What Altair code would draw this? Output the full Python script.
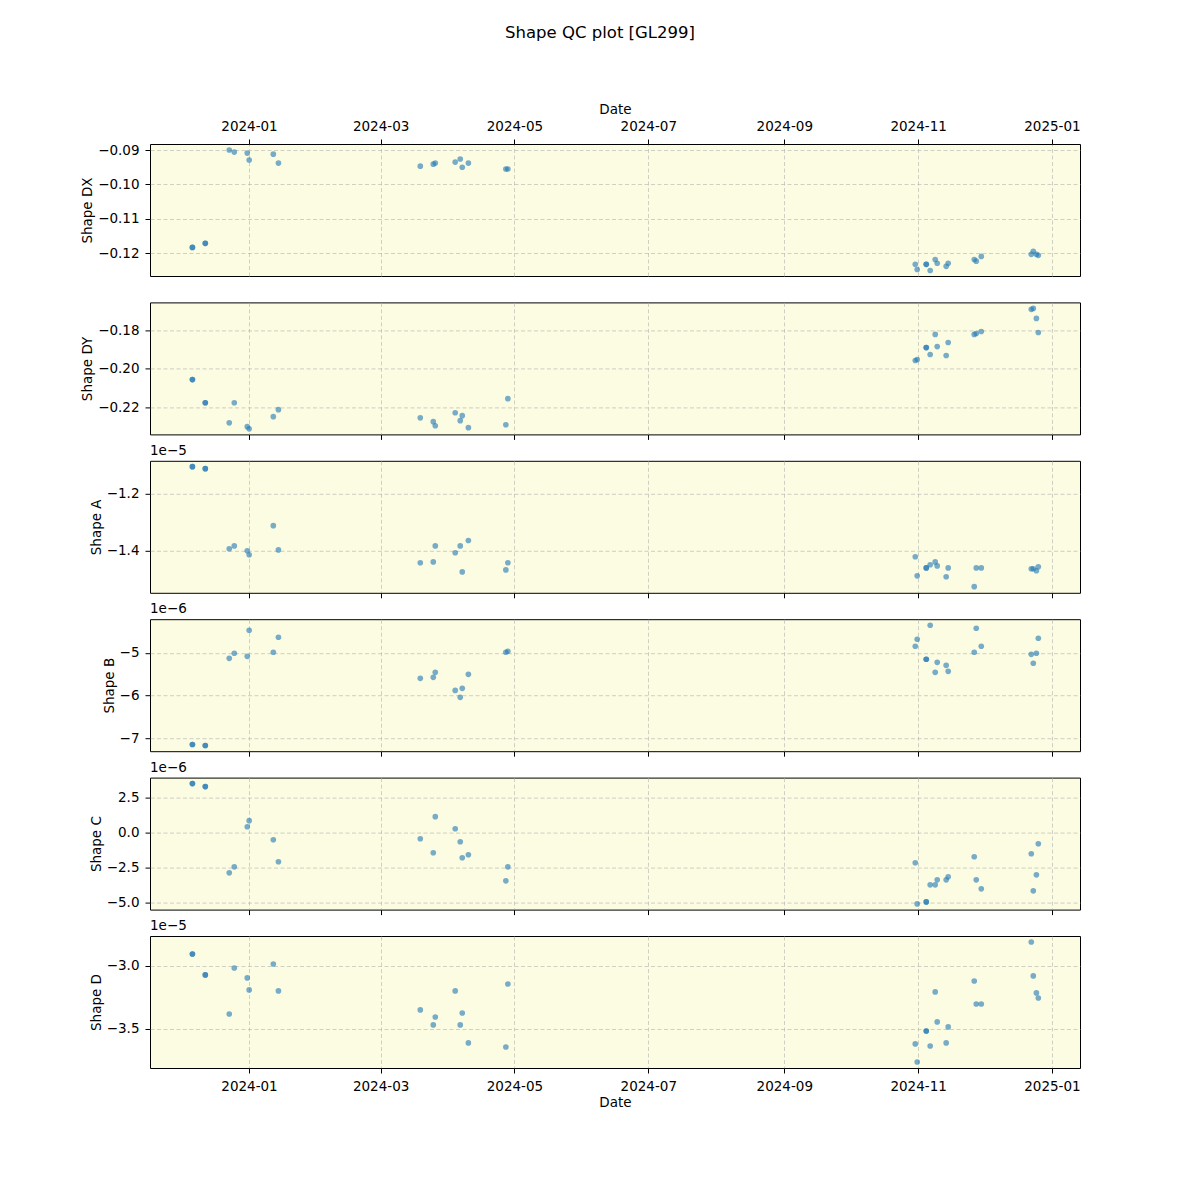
import altair as alt
import pandas as pd

# ---- data ----
dates = [
    "2023-12-06T05:00:00Z", "2023-12-12T02:00:00Z", "2023-12-23T00:00:00Z", "2023-12-25T07:00:00Z",
    "2023-12-31T05:00:00Z", "2024-01-01T02:00:00Z", "2024-01-12T02:00:00Z", "2024-01-14T10:00:00Z",
    "2024-03-19T02:00:00Z", "2024-03-25T00:00:00Z", "2024-03-25T22:00:00Z", "2024-04-04T00:00:00Z",
    "2024-04-06T07:00:00Z", "2024-04-07T05:00:00Z", "2024-04-10T00:00:00Z", "2024-04-27T02:00:00Z",
    "2024-04-28T00:00:00Z", "2024-10-30T17:00:00Z", "2024-10-31T14:00:00Z", "2024-11-04T17:00:00Z",
    "2024-11-06T12:00:00Z", "2024-11-08T19:00:00Z", "2024-11-09T17:00:00Z", "2024-11-13T19:00:00Z",
    "2024-11-14T17:00:00Z", "2024-11-26T14:00:00Z", "2024-11-27T12:00:00Z", "2024-11-29T19:00:00Z",
    "2024-12-22T14:00:00Z", "2024-12-23T12:00:00Z", "2024-12-24T22:00:00Z", "2024-12-25T19:00:00Z",
]
# number of overlapping observations at each date (darker dots)
n_obs = [2, 2, 1, 1, 1, 1, 1, 1, 1, 1, 1, 1, 1, 1, 1, 1,
         1, 1, 1, 2, 1, 1, 1, 1, 1, 1, 1, 1, 1, 1, 1, 1]

shape_dx = [-0.1183, -0.1171, -0.0900, -0.0906, -0.0909, -0.0929, -0.0912, -0.0938,
            -0.0947, -0.0941, -0.0938, -0.0935, -0.0926, -0.0950, -0.0938, -0.0955,
            -0.0955, -0.1232, -0.1247, -0.1232, -0.1250, -0.1218, -0.1229, -0.1238,
            -0.1229, -0.1218, -0.1223, -0.1209, -0.1203, -0.1194, -0.1203, -0.1206]
shape_dy = [-0.2056, -0.2176, -0.2280, -0.2176, -0.2300, -0.2311, -0.2248, -0.2212,
            -0.2254, -0.2274, -0.2295, -0.2228, -0.2269, -0.2243, -0.2305, -0.2290,
            -0.2155, -0.1957, -0.1952, -0.1890, -0.1926, -0.1822, -0.1885, -0.1931,
            -0.1864, -0.1822, -0.1817, -0.1807, -0.1692, -0.1687, -0.1739, -0.1812]
shape_a_e5 = [-1.106, -1.113, -1.394, -1.384, -1.401, -1.415, -1.313, -1.398,
              -1.443, -1.440, -1.384, -1.408, -1.384, -1.475, -1.365, -1.468,
              -1.443, -1.422, -1.489, -1.461, -1.450, -1.440, -1.454, -1.492,
              -1.461, -1.527, -1.461, -1.461, -1.464, -1.464, -1.471, -1.457]
shape_b_e6 = [-7.148, -7.172, -5.125, -5.007, -5.078, -4.466, -4.984, -4.631,
              -5.595, -5.572, -5.454, -5.878, -6.042, -5.831, -5.501, -4.984,
              -4.960, -4.842, -4.678, -5.148, -4.348, -5.454, -5.219, -5.290,
              -5.431, -4.984, -4.419, -4.842, -5.031, -5.242, -5.007, -4.654]
shape_c_e6 = [3.500, 3.286, -2.857, -2.429, 0.429, 0.857, -0.500, -2.071,
              -0.429, -1.429, 1.143, 0.286, -0.643, -1.786, -1.571, -3.429,
              -2.429, -2.143, -5.071, -4.929, -3.714, -3.714, -3.357, -3.357,
              -3.143, -1.714, -3.357, -4.000, -1.500, -4.143, -3.000, -0.786]
shape_d_e5 = [-2.905, -3.071, -3.381, -3.016, -3.095, -3.190, -2.984, -3.198,
              -3.349, -3.468, -3.405, -3.198, -3.468, -3.373, -3.611, -3.643,
              -3.143, -3.619, -3.762, -3.516, -3.635, -3.206, -3.444, -3.611,
              -3.484, -3.119, -3.302, -3.302, -2.810, -3.079, -3.214, -3.254]

x_tick_months = [(2024, 1), (2024, 3), (2024, 5), (2024, 7), (2024, 9), (2024, 11), (2025, 1)]

panels = [
    # field, title, values, multiplier, domain (scaled), ticks (scaled), label format, offset text
    ("dx", "Shape DX", shape_dx, 1, [-0.1266, -0.08825], [-0.12, -0.11, -0.10, -0.09], ".2f", ""),
    ("dy", "Shape DY", shape_dy, 1, [-0.2340, -0.1656], [-0.22, -0.20, -0.18], ".2f", ""),
    ("a", "Shape A", shape_a_e5, 1e-5, [-1.5484, -1.0853], [-1.4, -1.2], ".1f", "1e\u22125"),
    ("b", "Shape B", shape_b_e6, 1e-6, [-7.306, -4.207], [-7, -6, -5], ".0f", "1e\u22126"),
    ("c", "Shape C", shape_c_e6, 1e-6, [-5.479, 3.929], [-5.0, -2.5, 0.0, 2.5], ".1f", "1e\u22126"),
    ("d", "Shape D", shape_d_e5, 1e-5, [-3.810, -2.762], [-3.5, -3.0], ".1f", "1e\u22125"),
]

# ---- build table ----
rows = []
for i, d in enumerate(dates):
    for _ in range(n_obs[i]):
        row = {"date": d}
        for field, _t, vals, mult, *_ in panels:
            row[field] = vals[i] * mult
        rows.append(row)
df = pd.DataFrame(rows)

FONT = "DejaVu Sans"
x_domain = [alt.DateTime(year=2023, month=11, date=16, hours=21, utc=True),
            alt.DateTime(year=2025, month=1, date=13, hours=19, utc=True)]
x_ticks = [alt.DateTime(year=y, month=m, date=1, utc=True) for y, m in x_tick_months]
X_LABEL = "utcFormat(datum.value, '%Y-%m')"

W, H = 930, 132


def make_panel(idx):
    field, title, vals, mult, dom, ticks, fmt, offtxt = panels[idx]
    if idx == 0:
        xaxis = alt.Axis(orient="top", values=x_ticks, labelExpr=X_LABEL, title="Date", grid=True)
    elif idx == len(panels) - 1:
        xaxis = alt.Axis(orient="bottom", values=x_ticks, labelExpr=X_LABEL, title="Date", grid=True)
    else:
        xaxis = alt.Axis(orient="bottom", values=x_ticks, labels=False, title=None, grid=True)
    inv = 1.0 / mult
    pts = alt.Chart(df).mark_circle(size=32, opacity=0.6, color="#1f77b4").encode(
        x=alt.X("date:T", scale=alt.Scale(type="utc", domain=x_domain), axis=xaxis),
        y=alt.Y(f"{field}:Q",
                scale=alt.Scale(domain=[v * mult for v in dom], zero=False, nice=False),
                axis=alt.Axis(values=[v * mult for v in ticks], title=title,
                              labelExpr=f"format(datum.value * {inv!r}, '{fmt}')")),
    )
    if offtxt:
        txt = alt.Chart(pd.DataFrame({"t": [offtxt]})).mark_text(
            align="left", baseline="bottom", fontSize=13.5, font=FONT, color="black"
        ).encode(x=alt.value(0), y=alt.value(-3), text="t:N")
        return alt.layer(pts, txt).properties(width=W, height=H)
    return pts.properties(width=W, height=H)


chart = alt.vconcat(*[make_panel(i) for i in range(len(panels))], spacing=26.4, bounds="flush").properties(
    title=alt.TitleParams("Shape QC plot [GL299]", fontSize=16.5, fontWeight="normal", font=FONT,
                          anchor="middle", frame="group", dx=-15, offset=60, color="black"),
    padding={"left": 80, "top": 25, "right": 20, "bottom": 20},
    background="white",
).configure_view(
    stroke="black", strokeWidth=1, fill="#fcfce2"
).configure_axis(
    labelFont=FONT, titleFont=FONT, labelFontSize=13.5, titleFontSize=13.5,
    labelColor="black", titleColor="black", titleFontWeight="normal",
    tickColor="black", tickSize=5, labelPadding=6, titlePadding=3,
    domain=False, gridColor="#b0b0b0", gridOpacity=0.6, gridDash=[4, 2.5], gridWidth=1,
    labelFlush=False,
)

chart.save("out.html", embed_options={"renderer": "svg", "actions": False})
